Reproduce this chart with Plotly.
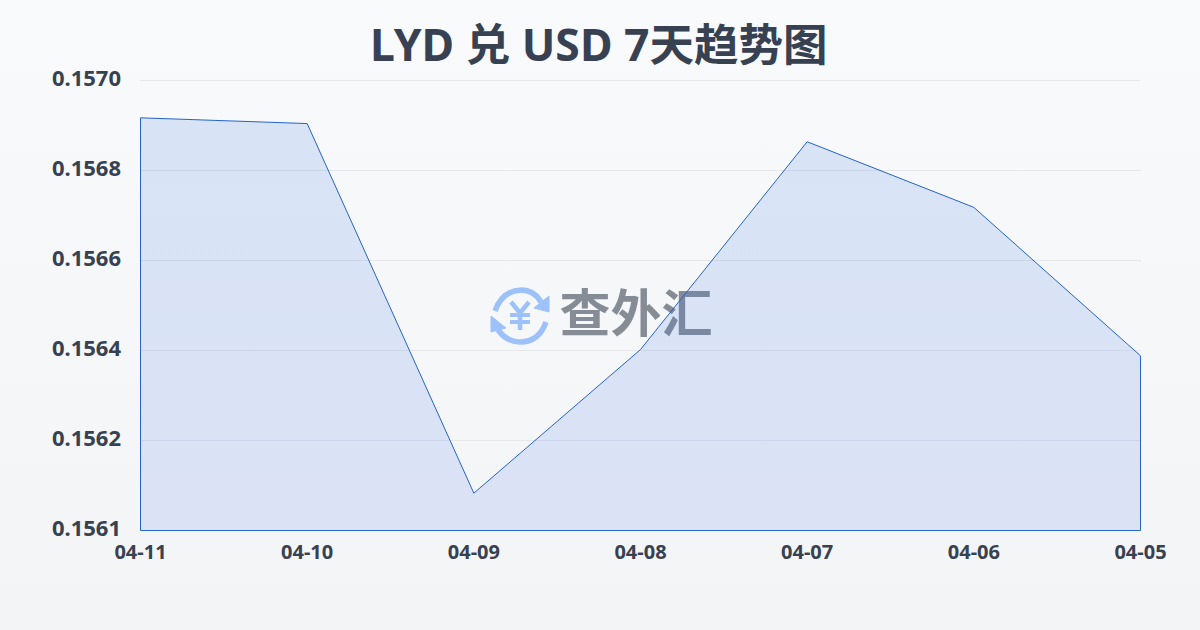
import plotly.graph_objects as go

title = "LYD 兑 USD 7天趋势图"
dates = ["04-11", "04-10", "04-09", "04-08", "04-07", "04-06", "04-05"]
rates = [0.156922, 0.15691, 0.156138, 0.156438, 0.156872, 0.156735, 0.156425]
axis_min = 0.15606
axis_max = 0.15700
tick_values = [0.15700, 0.156812, 0.156624, 0.156436, 0.156248, 0.15606]
tick_labels = ["0.1570", "0.1568", "0.1566", "0.1564", "0.1562", "0.1561"]
watermark = "查外汇"

FONT = "'Noto Sans', 'Noto Sans CJK SC', sans-serif"
INK = "#374151"
LINE = "#2563c9"
GRID = "#e5e7eb"

# Plot box is one pixel larger than the data span, with half a pixel of slack
# on each side, so the outline lands on whole pixels and is not clipped.
L, T, W, H = 140, 80, 1001, 451
SLACK_X = 0.003
SLACK_Y = 0.000001


def px(x):
    return (x - L) / W


def py(y):
    return (T + H - y) / H


def path(*cmds):
    out = []
    for c in cmds:
        if isinstance(c, str):
            out.append(c)
        else:
            out.append(f"{px(c[0]):.5f},{py(c[1]):.5f}")
    return " ".join(out)


fig = go.Figure()
fig.add_trace(go.Scatter(
    x=dates + [dates[-1], dates[0], dates[0]],
    y=rates + [axis_min, axis_min, rates[0]],
    mode="lines",
    line=dict(color=LINE, width=1),
    fill="toself",
    cliponaxis=False,
    fillgradient=dict(type="vertical",
                      colorscale=[[0, "rgba(76,117,239,0.15)"], [1, "rgba(36,110,219,0.15)"]]),
    hoverinfo="skip",
    showlegend=False,
))

ICON = "#9dc1fb"
shapes = [
    # top grid line sits on the axis edge
    dict(type="line", x0=px(140), x1=px(1140), y0=py(80.5), y1=py(80.5), line=dict(color=GRID, width=1)),
    # upper arc with arrow head
    dict(type="path", path="M " + path((495, 311)) + " Q " + path((502, 291)) + " " + path((521, 290))
         + " Q " + path((534, 290)) + " " + path((541, 302)),
         line=dict(color=ICON, width=5.5), fillcolor="rgba(0,0,0,0)"),
    dict(type="path", path="M " + path((549, 296)) + " L " + path((549, 312)) + " L " + path((534, 308)) + " Z",
         line=dict(color=ICON, width=1), fillcolor=ICON),
    # lower arc with arrow head
    dict(type="path", path="M " + path((546, 322)) + " Q " + path((539, 342)) + " " + path((520, 342))
         + " Q " + path((507, 342)) + " " + path((498, 330)),
         line=dict(color=ICON, width=5.5), fillcolor="rgba(0,0,0,0)"),
    dict(type="path", path="M " + path((491, 316)) + " L " + path((491, 332)) + " L " + path((506, 328)) + " Z",
         line=dict(color=ICON, width=1), fillcolor=ICON),
    # yen sign
    dict(type="path", path="M " + path((511, 302)) + " L " + path((520, 313)) + " L " + path((529, 302)),
         line=dict(color=ICON, width=4.5), fillcolor="rgba(0,0,0,0)"),
    dict(type="path", path="M " + path((520, 313)) + " L " + path((520, 330)),
         line=dict(color=ICON, width=4.5)),
    dict(type="path", path="M " + path((510, 315)) + " L " + path((530, 315)),
         line=dict(color=ICON, width=4)),
    dict(type="path", path="M " + path((510, 322)) + " L " + path((530, 322)),
         line=dict(color=ICON, width=4)),
    # word mark
    dict(type="rect", x0=px(551), x1=px(721), y0=py(348), y1=py(288),
         line=dict(width=0), fillcolor="rgba(0,0,0,0)",
         label=dict(text=watermark, textposition="middle center",
                    font=dict(family="Noto Sans CJK SC", size=51, color="#868c96", weight=700))),
]
for s in shapes:
    s.update(xref="paper", yref="paper", layer="below")

fig.update_layout(
    width=1200, height=630,
    margin=dict(l=L, r=1200 - L - W, t=T, b=630 - T - H, pad=0),
    paper_bgcolor="rgba(0,0,0,0)",
    plot_bgcolor="rgba(0,0,0,0)",
    title=dict(text=title, x=0.499, xanchor="center", y=0.928, yanchor="middle",
               font=dict(family=FONT, size=44.5, color=INK, weight=700)),
    xaxis=dict(type="category", categoryorder="array", categoryarray=dates,
               range=[-SLACK_X, len(dates) - 1 + SLACK_X], showgrid=False, zeroline=False, showline=False,
               ticks="", ticklabelstandoff=7,
               tickfont=dict(family=FONT, size=20, color=INK, weight=700)),
    yaxis=dict(range=[axis_min - SLACK_Y, axis_max + SLACK_Y], tickmode="array",
               tickvals=tick_values, ticktext=tick_labels,
               showgrid=True, gridcolor=GRID, gridwidth=1, zeroline=False, showline=False,
               ticks="", ticklabelstandoff=18, ticklabelshift=-2,
               tickfont=dict(family=FONT, size=22, color=INK, weight=700)),
    shapes=shapes,
)

css = ("document.documentElement.style.height='100%';"
       "document.body.style.margin='0';"
       "document.body.style.minHeight='630px';"
       "document.body.style.background='linear-gradient(180deg,#f9fafc 0%,#f3f4f6 100%)';")
fig.write_html("out.html", post_script=css, config={"displayModeBar": False})
